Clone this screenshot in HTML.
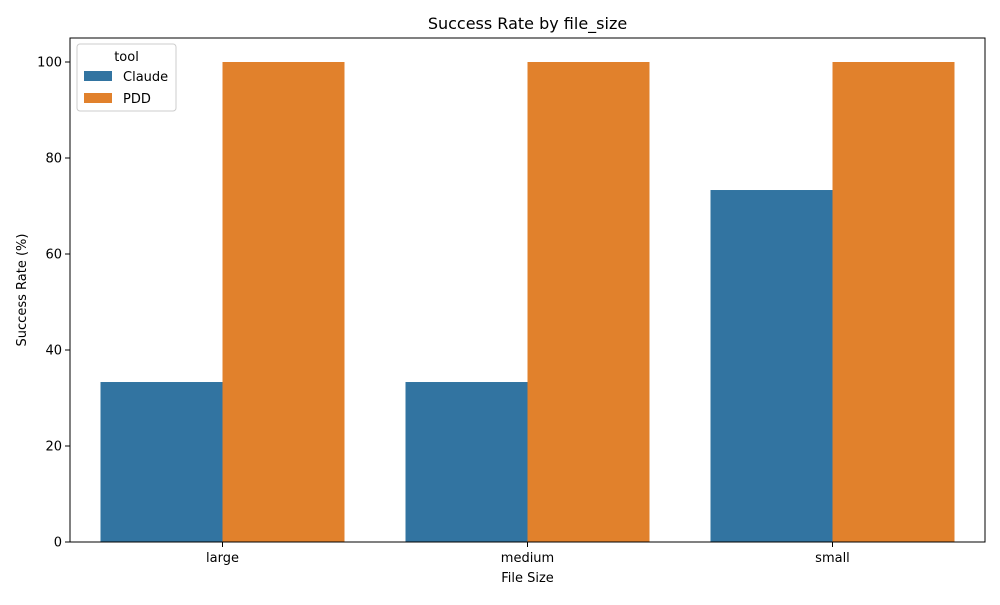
<!DOCTYPE html>
<html><head><meta charset="utf-8"><style>
body{margin:0;background:#fff;font-family:"Liberation Sans","DejaVu Sans",sans-serif}
</style></head><body>
<svg id="chart" width="1000" height="600" xmlns="http://www.w3.org/2000/svg" font-family="DejaVu Sans, Liberation Sans, sans-serif">
<rect width="1000" height="600" fill="#fff"/>
<text x="527.5" y="29" text-anchor="middle" font-size="16">Success Rate by file_size</text>
<g id="bars"></g>
<g id="axes"></g>
<text x="527.5" y="582" text-anchor="middle" font-size="13">File Size</text>
<text transform="translate(26,290) rotate(-90)" text-anchor="middle" font-size="13">Success Rate (%)</text>
<g>
<rect x="77" y="44" width="99" height="67" rx="3" fill="#fff" fill-opacity="0.8" stroke="#ccc"/>
<text x="126.5" y="61" text-anchor="middle" font-size="13">tool</text>
<rect x="84" y="71" width="28" height="10" fill="#3274a1"/>
<text x="123" y="81" font-size="13">Claude</text>
<rect x="84" y="93" width="28" height="10" fill="#e1812c"/>
<text x="123" y="103" font-size="13">PDD</text>
</g>
</svg>
<script>
const categories = ["large","medium","small"];
const claudeValues = [33.33, 33.33, 73.33];
const pddValues = [100, 100, 100];
const yTicks = [0,20,40,60,80,100];
const NS="http://www.w3.org/2000/svg";
const L=70,R=985,T=38,B=542,ymax=105;
const xs=i=>L+(i+0.5)*(R-L)/categories.length;
const ys=v=>B-v/ymax*(B-T);
const bw=(R-L)/categories.length*0.4;
const bars=document.getElementById('bars'),axes=document.getElementById('axes');
function mk(tag,attrs,parent){const e=document.createElementNS(NS,tag);for(const k in attrs)e.setAttribute(k,attrs[k]);parent.appendChild(e);return e;}
categories.forEach((c,i)=>{
 const a=mk('rect',{x:xs(i)-bw,y:ys(claudeValues[i]),width:bw,height:B-ys(claudeValues[i]),fill:'#3274a1'},bars);
 
 
 const b=mk('rect',{x:xs(i),y:ys(pddValues[i]),width:bw,height:B-ys(pddValues[i]),fill:'#e1812c'},bars);
 
 
 mk('line',{x1:xs(i),x2:xs(i),y1:B,y2:B+5,stroke:'#000'},axes);
 const t=mk('text',{x:xs(i),y:B+20,'text-anchor':'middle','font-size':13},axes);t.textContent=c;
 
 
});
yTicks.forEach(v=>{
 mk('line',{x1:L-5,x2:L,y1:ys(v),y2:ys(v),stroke:'#000'},axes);
 const t=mk('text',{x:L-8,y:ys(v)+4.5,'text-anchor':'end','font-size':13},axes);t.textContent=v;
 
 
});
const f=mk('rect',{x:L,y:T,width:R-L,height:B-T,fill:'none',stroke:'#000','stroke-width':1},axes);


</script>
</body></html>
